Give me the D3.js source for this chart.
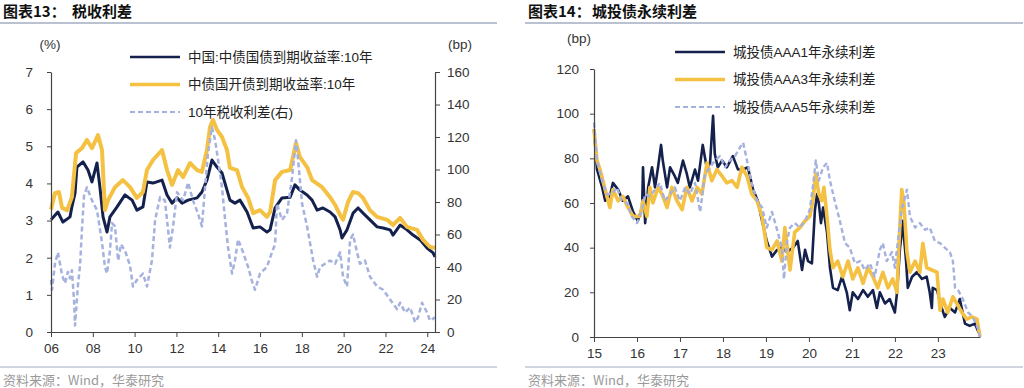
<!doctype html>
<html>
  <head>
    <meta charset="utf-8">
    <script src="https://cdn.jsdelivr.net/npm/d3@7/dist/d3.min.js"></script>
    <style>
      body { margin: 0; background: white; }
      svg { display: block; }
      text { font-family: "Liberation Sans", "Noto Sans CJK SC", sans-serif; }
      .title { font-family: "Noto Sans CJK SC", sans-serif; font-weight: bold; font-size: 15px; fill: #111; }
      .source { font-family: "Noto Sans CJK SC", "Liberation Sans", sans-serif; font-size: 13px; fill: #9a9a9a; }
      .legend text { font-size: 13.5px; fill: #222; }
      .axis text { font-size: 13.5px; fill: #333; }
      .axis path, .axis line { stroke: #444; }
    </style>
  </head>
  <body>
    <svg id="chart" width="1024" height="388"></svg>
    <script>
      // 图表13 -- [year, value]
      const govYield = [
        [2006.00,3.02],[2006.33,3.23],[2006.57,2.96],[2006.72,3.02],[2006.91,3.10],[2007.00,3.37],
        [2007.15,3.74],[2007.24,4.44],[2007.53,4.58],[2007.77,4.36],[2007.96,4.04],[2008.20,4.55],
        [2008.34,3.90],[2008.49,3.10],[2008.68,2.69],[2008.82,3.10],[2009.16,3.37],[2009.54,3.69],
        [2009.88,3.55],[2010.11,3.28],[2010.40,3.37],[2010.59,4.04],[2010.88,4.01],[2011.31,4.09],
        [2011.55,3.69],[2011.79,3.47],[2012.03,3.61],[2012.27,3.47],[2012.56,3.55],[2012.99,3.61],
        [2013.22,3.77],[2013.46,4.09],[2013.70,4.63],[2013.94,4.44],[2014.18,4.28],[2014.42,3.82],
        [2014.56,3.55],[2014.80,3.47],[2015.04,3.55],[2015.38,3.23],[2015.67,2.80],[2016.00,2.83],
        [2016.33,2.69],[2016.48,2.75],[2016.72,3.34],[2017.05,3.61],[2017.44,3.63],[2017.67,3.96],
        [2017.91,3.82],[2018.25,3.69],[2018.49,3.55],[2018.73,3.28],[2019.01,3.34],[2019.35,3.23],
        [2019.59,3.10],[2019.83,2.75],[2019.92,2.53],[2020.16,2.75],[2020.45,3.20],[2020.69,3.34],
        [2020.93,3.20],[2021.26,3.02],[2021.60,2.83],[2021.89,2.80],[2022.22,2.75],[2022.36,2.61],
        [2022.70,2.88],[2023.03,2.75],[2023.32,2.61],[2023.66,2.48],[2023.99,2.26],[2024.28,2.13],
        [2024.37,2.02]
      ]
      const cdbYield = [
        [2006.00,3.30],[2006.19,3.74],[2006.38,3.77],[2006.53,3.34],[2006.77,3.28],[2007.00,3.63],
        [2007.20,4.82],[2007.48,4.95],[2007.72,5.17],[2007.96,4.95],[2008.25,5.30],[2008.44,4.90],
        [2008.58,3.28],[2008.73,3.55],[2009.06,3.90],[2009.44,4.09],[2009.78,3.90],[2010.11,3.61],
        [2010.40,3.77],[2010.59,4.36],[2010.88,4.63],[2011.31,4.90],[2011.55,4.36],[2011.79,3.96],
        [2012.08,4.36],[2012.32,4.17],[2012.65,4.55],[2012.99,4.36],[2013.22,4.31],[2013.46,4.90],
        [2013.61,5.52],[2013.75,5.71],[2013.94,5.44],[2014.18,5.25],[2014.42,4.90],[2014.56,4.42],
        [2014.90,4.36],[2015.14,3.90],[2015.43,3.61],[2015.67,3.20],[2016.00,3.28],[2016.33,3.10],
        [2016.48,3.23],[2016.72,4.09],[2017.05,4.31],[2017.44,4.36],[2017.72,5.09],[2017.91,4.71],
        [2018.25,4.44],[2018.49,4.09],[2018.97,3.90],[2019.35,3.63],[2019.59,3.42],[2019.83,3.15],
        [2019.97,3.02],[2020.21,3.50],[2020.45,3.77],[2020.69,3.74],[2020.93,3.61],[2021.26,3.28],
        [2021.60,3.10],[2022.08,3.02],[2022.36,2.88],[2022.70,3.07],[2023.03,2.83],[2023.51,2.75],
        [2023.80,2.48],[2024.13,2.29],[2024.37,2.26]
      ]
      const taxSpread = [
        [2006.00,32],[2006.05,26],[2006.19,42],[2006.33,49],[2006.53,35],[2006.67,30],[2006.81,37],
        [2006.91,33],[2007.00,38],[2007.10,20],[2007.15,4],[2007.24,20],[2007.29,29],[2007.39,41],
        [2007.48,63],[2007.58,84],[2007.72,89],[2007.96,81],[2008.20,75],[2008.44,55],[2008.58,40],
        [2008.68,36],[2008.82,50],[2008.92,67],[2009.06,65],[2009.21,44],[2009.35,54],[2009.54,50],
        [2009.78,41],[2009.92,28],[2010.11,32],[2010.40,36],[2010.59,28],[2010.83,44],[2010.98,69],
        [2011.22,83],[2011.45,81],[2011.69,52],[2011.84,65],[2012.03,86],[2012.32,81],[2012.56,92],
        [2012.79,81],[2013.03,73],[2013.22,65],[2013.37,89],[2013.51,110],[2013.70,126],[2013.85,118],
        [2013.99,106],[2014.18,89],[2014.33,69],[2014.47,52],[2014.66,36],[2014.80,44],[2014.95,57],
        [2015.19,49],[2015.43,40],[2015.62,31],[2015.76,26],[2016.00,36],[2016.33,40],[2016.57,49],
        [2016.72,54],[2016.81,79],[2017.05,69],[2017.29,73],[2017.53,95],[2017.72,118],[2017.82,106],
        [2018.01,79],[2018.25,65],[2018.54,44],[2018.73,34],[2018.87,40],[2019.11,42],[2019.35,44],
        [2019.59,42],[2019.83,49],[2019.97,34],[2020.16,28],[2020.31,57],[2020.45,60],[2020.64,49],
        [2020.78,42],[2021.02,44],[2021.26,34],[2021.60,28],[2021.89,26],[2022.22,20],[2022.56,14],
        [2022.70,18],[2022.94,12],[2023.18,15],[2023.42,6],[2023.56,9],[2023.75,18],[2023.99,12],
        [2024.13,7],[2024.37,9]
      ]

      // 图表14 -- [year, bp]
      const aaa1 = [
        [2015.00,93],[2015.07,75],[2015.19,67],[2015.26,61],[2015.37,63],[2015.44,69],[2015.56,66],
        [2015.67,61],[2015.79,63],[2015.91,56],[2016.02,52],[2016.12,58],[2016.14,76],[2016.19,51],
        [2016.26,67],[2016.35,76],[2016.42,67],[2016.49,76],[2016.56,86],[2016.60,79],[2016.70,67],
        [2016.77,76],[2016.88,72],[2016.95,69],[2017.07,79],[2017.16,73],[2017.23,67],[2017.35,75],
        [2017.42,70],[2017.53,86],[2017.63,75],[2017.70,78],[2017.77,99],[2017.81,82],[2017.88,76],
        [2017.98,79],[2018.09,76],[2018.23,81],[2018.35,75],[2018.47,75],[2018.58,76],[2018.70,66],
        [2018.81,61],[2018.91,52],[2019.02,43],[2019.14,36],[2019.26,39],[2019.37,40],[2019.49,38],
        [2019.63,40],[2019.74,43],[2019.84,30],[2019.91,39],[2019.98,34],[2020.07,33],[2020.14,57],
        [2020.19,64],[2020.23,60],[2020.28,51],[2020.33,58],[2020.42,47],[2020.49,31],[2020.56,22],
        [2020.67,21],[2020.77,27],[2020.88,20],[2020.95,12],[2021.02,20],[2021.14,17],[2021.26,21],
        [2021.37,18],[2021.49,21],[2021.58,13],[2021.65,20],[2021.77,15],[2021.88,17],[2022.00,11],
        [2022.05,20],[2022.12,40],[2022.19,52],[2022.21,45],[2022.26,34],[2022.30,22],[2022.40,27],
        [2022.51,29],[2022.63,26],[2022.74,27],[2022.81,20],[2022.86,13],[2022.88,22],[2022.98,21],
        [2023.09,13],[2023.16,9],[2023.28,13],[2023.40,11],[2023.51,17],[2023.63,6],[2023.74,5],
        [2023.86,6],[2023.95,2]
      ]
      const aaa3 = [
        [2015.00,93],[2015.07,79],[2015.14,75],[2015.26,66],[2015.37,58],[2015.44,66],[2015.56,61],
        [2015.67,63],[2015.79,58],[2015.91,54],[2016.07,54],[2016.14,61],[2016.23,54],[2016.30,67],
        [2016.37,60],[2016.49,67],[2016.58,64],[2016.70,58],[2016.81,67],[2016.93,61],[2017.05,57],
        [2017.16,67],[2017.28,61],[2017.40,67],[2017.51,64],[2017.63,78],[2017.74,70],[2017.86,75],
        [2017.98,72],[2018.09,69],[2018.21,70],[2018.33,67],[2018.44,76],[2018.56,72],[2018.67,64],
        [2018.79,61],[2018.91,54],[2019.02,40],[2019.14,39],[2019.26,43],[2019.37,34],[2019.44,49],
        [2019.56,30],[2019.67,47],[2019.79,49],[2019.91,52],[2020.02,54],[2020.09,61],[2020.16,73],
        [2020.23,64],[2020.30,61],[2020.35,67],[2020.42,54],[2020.49,39],[2020.56,31],[2020.67,34],
        [2020.79,27],[2020.91,34],[2021.02,26],[2021.14,31],[2021.26,24],[2021.37,31],[2021.49,27],
        [2021.60,22],[2021.72,29],[2021.84,22],[2021.95,26],[2022.05,20],[2022.09,40],[2022.16,66],
        [2022.21,60],[2022.28,38],[2022.35,29],[2022.47,34],[2022.58,29],[2022.65,42],[2022.74,31],
        [2022.86,30],[2022.98,29],[2023.05,12],[2023.12,17],[2023.23,11],[2023.35,18],[2023.44,15],
        [2023.56,11],[2023.67,8],[2023.79,9],[2023.91,8],[2023.98,0]
      ]
      const aaa5 = [
        [2015.00,96],[2015.07,79],[2015.19,70],[2015.30,64],[2015.42,64],[2015.53,67],[2015.65,61],
        [2015.77,60],[2015.88,54],[2016.00,51],[2016.12,57],[2016.19,64],[2016.30,63],[2016.42,66],
        [2016.53,69],[2016.65,61],[2016.77,64],[2016.88,67],[2017.00,61],[2017.12,67],[2017.23,64],
        [2017.35,69],[2017.47,56],[2017.58,73],[2017.70,76],[2017.81,79],[2017.93,81],[2018.05,76],
        [2018.16,79],[2018.28,81],[2018.40,85],[2018.47,87],[2018.56,79],[2018.67,69],[2018.79,61],
        [2018.91,58],[2019.02,49],[2019.14,56],[2019.26,48],[2019.37,40],[2019.42,26],[2019.49,43],
        [2019.56,49],[2019.67,51],[2019.79,49],[2019.91,52],[2020.02,57],[2020.09,67],[2020.16,79],
        [2020.23,70],[2020.33,76],[2020.42,78],[2020.49,70],[2020.60,61],[2020.72,52],[2020.84,42],
        [2020.95,40],[2021.07,33],[2021.19,34],[2021.30,30],[2021.42,33],[2021.53,27],[2021.65,39],
        [2021.72,42],[2021.81,34],[2021.93,38],[2022.00,31],[2022.07,43],[2022.16,57],[2022.28,66],
        [2022.35,54],[2022.47,49],[2022.58,51],[2022.70,48],[2022.81,49],[2022.93,43],[2023.05,42],
        [2023.16,40],[2023.28,38],[2023.35,34],[2023.40,22],[2023.47,21],[2023.58,17],[2023.70,11],
        [2023.81,9],[2023.93,4],[2023.98,0]
      ]

      const leftXTicks = [2006, 2008, 2010, 2012, 2014, 2016, 2018, 2020, 2022, 2024]
      const leftYTicks = [0, 1, 2, 3, 4, 5, 6, 7]
      const leftBpTicks = [0, 20, 40, 60, 80, 100, 120, 140, 160]
      const rightXTicks = [2015, 2016, 2017, 2018, 2019, 2020, 2021, 2022, 2023]
      const rightYTicks = [0, 20, 40, 60, 80, 100, 120]

      const leftNames = ["中国:中债国债到期收益率:10年", "中债国开债到期收益率:10年", "10年税收利差(右)"]
      const rightNames = ["城投债AAA1年永续利差", "城投债AAA3年永续利差", "城投债AAA5年永续利差"]

      const navy = "#14214d", gold = "#f4c142", lilac = "#a5b1de"
      const yearFmt = (d) => String(Math.round(d) % 100).padStart(2, "0")

      const svg = d3.select("#chart")

      // titles, rules and sources
      function frame(x0, x1, num, name, nameX) {
        svg.append("text").attr("class", "title").attr("x", x0 + 3).attr("y", 17).text(num)
        svg.append("text").attr("class", "title").attr("x", nameX).attr("y", 17).text(name)
        svg.append("line").attr("x1", x0).attr("x2", x1).attr("y1", 23).attr("y2", 23)
          .attr("stroke", "#a3acc2").attr("stroke-width", 1.5)
        svg.append("line").attr("x1", x0).attr("x2", x1).attr("y1", 367).attr("y2", 367)
          .attr("stroke", "#a3acc2").attr("stroke-width", 1.2)
        svg.append("text").attr("class", "source").attr("x", x0 + 3).attr("y", 385)
          .text("资料来源：Wind，华泰研究")
      }
      frame(0, 497, "图表13：", "税收利差", 72)
      frame(525, 1023, "图表14：", "城投债永续利差", 592)

      function drawLine(g, data, x, y, color, width, dash) {
        const line = d3.line().x(d => x(d[0])).y(d => y(d[1]))
        g.append("path").datum(data)
          .attr("fill", "none")
          .attr("stroke", color)
          .attr("stroke-width", width)
          .attr("stroke-linejoin", "round")
          .attr("stroke-dasharray", dash || null)
          .attr("d", line)
      }

      function legend(x0, y0, gap, names, widths) {
        const styles = [[navy, widths[0], null], [gold, widths[1], null], [lilac, 2, "5,3"]]
        const lg = svg.append("g").attr("class", "legend")
        names.forEach((n, i) => {
          const yy = y0 + i * gap
          lg.append("line").attr("x1", x0).attr("x2", x0 + 50).attr("y1", yy).attr("y2", yy)
            .attr("stroke", styles[i][0]).attr("stroke-width", styles[i][1])
            .attr("stroke-dasharray", styles[i][2])
          lg.append("text").attr("x", x0 + 58).attr("y", yy).attr("dy", "0.35em").text(n)
        })
      }

      // ---- left chart
      const xL = d3.scaleLinear().domain([2006, 2024.37]).range([51, 435])
      const yL = d3.scaleLinear().domain([0, 7]).range([332, 72])
      const yR = d3.scaleLinear().domain([0, 160]).range([332, 72])

      const left = svg.append("g")
      drawLine(left, govYield, xL, yL, navy, 3)
      drawLine(left, cdbYield, xL, yL, gold, 4)
      drawLine(left, taxSpread, xL, yR, lilac, 2.5, "5,3")

      left.append("g").attr("class", "axis").attr("transform", "translate(0,332)")
        .call(d3.axisBottom(xL).tickValues(leftXTicks).tickFormat(yearFmt).tickSize(5).tickSizeOuter(0).tickPadding(6))
      left.append("g").attr("class", "axis").attr("transform", "translate(51,0)")
        .call(d3.axisLeft(yL).tickValues(leftYTicks).tickFormat(d3.format("d")).tickSize(4).tickSizeOuter(0).tickPadding(14))
      left.append("g").attr("class", "axis").attr("transform", "translate(435,0)")
        .call(d3.axisRight(yR).tickValues(leftBpTicks).tickSize(5).tickSizeOuter(0).tickPadding(7))
      left.selectAll(".domain").attr("stroke-width", 1.2)

      left.append("g").attr("class", "axis").append("text")
        .attr("x", 50).attr("y", 49).attr("text-anchor", "middle").text("(%)")
      left.append("g").attr("class", "axis").append("text")
        .attr("x", 460).attr("y", 49).attr("text-anchor", "middle").text("(bp)")

      legend(130, 57, 27.5, leftNames, [2.6, 3.6])

      // ---- right chart
      const xP = d3.scaleLinear().domain([2015, 2023.98]).range([594, 980])
      const yP = d3.scaleLinear().domain([0, 120]).range([337, 69])

      const right = svg.append("g")
      drawLine(right, aaa1, xP, yP, navy, 2.6)
      drawLine(right, aaa3, xP, yP, gold, 3.6)
      drawLine(right, aaa5, xP, yP, lilac, 2.4, "5,3")

      right.append("g").attr("class", "axis").attr("transform", "translate(0,337)")
        .call(d3.axisBottom(xP).tickValues(rightXTicks).tickFormat(yearFmt).tickSize(5).tickSizeOuter(0).tickPadding(6))
      right.append("g").attr("class", "axis").attr("transform", "translate(594,0)")
        .call(d3.axisLeft(yP).tickValues(rightYTicks).tickSize(4).tickSizeOuter(0).tickPadding(11))
      right.selectAll(".domain").attr("stroke-width", 1.2)

      right.append("g").attr("class", "axis").append("text")
        .attr("x", 579).attr("y", 43).attr("text-anchor", "middle").text("(bp)")

      legend(675, 52, 27.5, rightNames, [2.6, 3.6])
    </script>
  </body>
</html>
